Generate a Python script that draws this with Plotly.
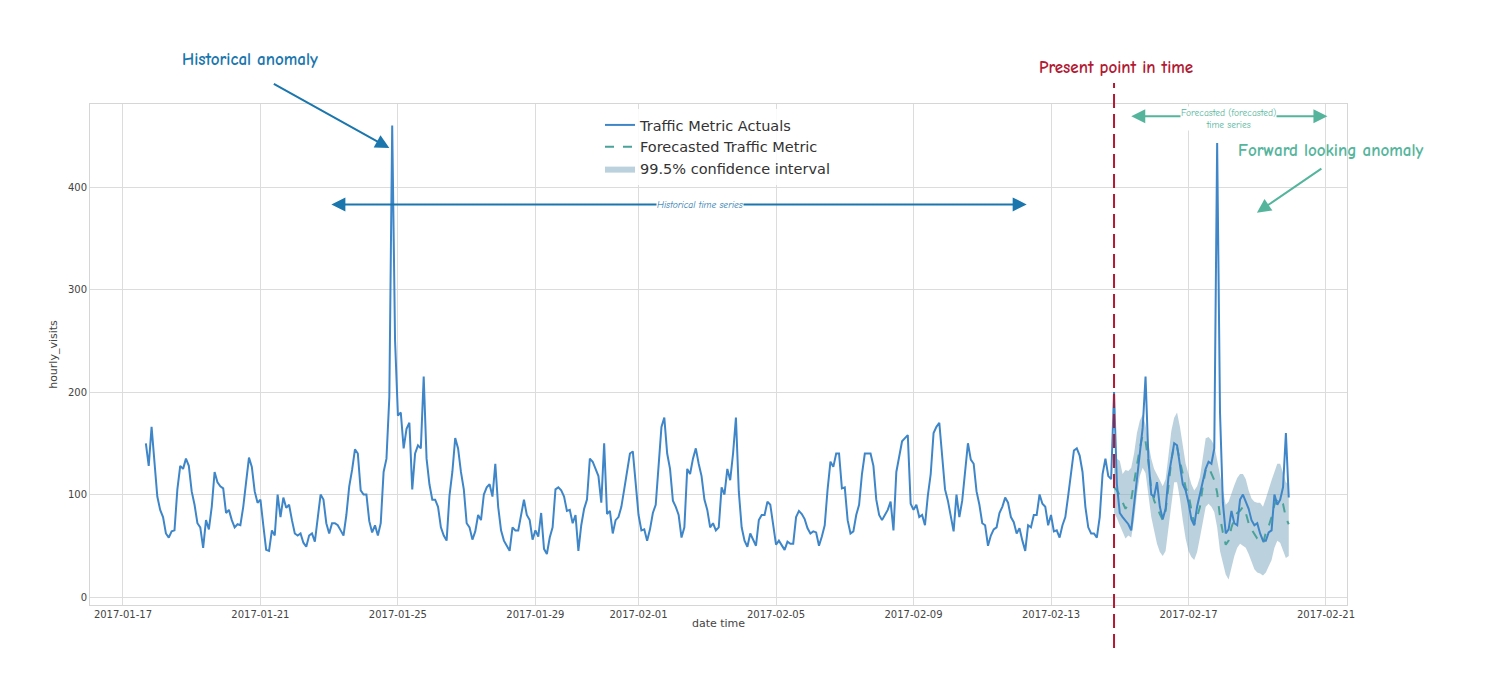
import pandas as pd
import plotly.graph_objects as go

# ---------------- data (2-hour resolution) ----------------
hist_start = "2017-01-17 16:00"
present_time = "2017-02-14 20:00"

# Actual hourly visits, Jan 17 16:00 -> Feb 14 20:00 (every 2 h)
actual_hist_visits = [
    150, 128, 166, 132, 98, 85, 78, 62, 58, 64,
    65, 105, 128, 125, 135, 128, 103, 90, 72, 68,
    48, 75, 66, 88, 122, 112, 108, 106, 82, 85,
    75, 68, 71, 70, 88, 112, 136, 127, 103, 92,
    95, 70, 46, 45, 65, 60, 100, 78, 97, 87,
    90, 75, 62, 60, 62, 53, 49, 60, 62, 54,
    78, 100, 95, 72, 62, 72, 72, 70,
    65, 60, 80, 108, 124, 144, 140, 104, 100, 100,
    74, 63, 70, 60, 72, 122, 135, 195, 460, 250,
    177, 180, 145, 164, 170, 105, 140, 148, 145, 215,
    135, 110, 95, 95, 88, 68, 60, 55, 99, 122,
    155, 145, 122, 105, 72, 68, 56, 64, 80, 75,
    100, 107, 110, 98, 130, 88, 65, 55, 50, 45,
    68, 65, 65, 80, 95, 80,
    75, 56, 65, 59, 82, 47, 42, 58, 68, 105,
    107, 104, 98, 84, 85, 72, 80, 45, 70, 86,
    95, 135, 132, 125, 118, 92, 150, 81, 84, 62,
    75, 78, 88, 105, 122, 140, 142, 110, 80, 65,
    66, 55, 66, 82, 90, 128, 166, 175, 140, 125,
    94, 88, 80, 58, 68, 125, 120, 135, 145, 130,
    118, 95, 85, 68, 72, 65, 68,
    107, 100, 125, 114, 140, 175, 103, 68, 55, 49,
    62, 56, 50, 75, 80, 80, 93, 90, 70, 51,
    55, 50, 46, 54, 52, 52, 78, 84, 81, 76,
    67, 62, 64, 63, 50, 59, 70, 105, 132, 127,
    140, 140, 106, 107, 75, 62, 64, 80, 90, 120,
    140, 140, 140, 128, 95, 80, 75, 80, 85, 93,
    65, 122, 138, 152, 155, 158,
    91, 85, 90, 78, 80, 70, 99, 120, 160, 166,
    170, 140, 105, 94, 78, 64, 100, 78, 94, 120,
    150, 134, 130, 103, 90, 72, 70, 50, 60, 66,
    68, 82, 88, 97, 92, 78, 73, 62, 67, 55,
    45, 70, 68, 80, 80, 100, 91, 88, 70, 80,
    64, 65, 58, 70, 78, 99, 122, 143, 145, 138,
    122, 88, 68, 62, 62, 58, 78, 120, 135, 118,
    115, 200,
]

# Actual visits after the present point, Feb 14 22:00 -> Feb 19 22:00 (every 2 h)
actual_recent_visits = [
    110, 82, 78, 74, 71, 65, 90, 118, 143, 165,
    215, 135, 100, 98, 112, 88, 76, 86, 117, 135,
    150, 148, 130, 110, 104, 92, 76, 70, 88, 100,
    112, 125, 132, 130, 145, 443, 180, 92, 62, 66,
    84, 72, 70, 95, 100, 92, 86, 75, 70, 72,
    62, 55, 55, 63, 65, 100, 90, 95, 107, 160,
    97,
]

# Forecast and 99.5% confidence interval, Feb 14 20:00 -> Feb 19 22:00 (every 2 h)
forecast_visits = [
    107, 104, 99, 92, 86, 91, 95, 112, 130, 145,
    158, 152, 132, 105, 94, 87, 81, 75, 84, 108,
    133, 149, 146, 133, 119, 107, 100, 85, 71, 78,
    88, 108, 124, 127, 120, 114, 102, 78, 63, 51,
    55, 68, 76, 82, 84, 88, 82, 72, 66, 62,
    57, 55, 52, 63, 69, 78, 90, 95, 96, 91,
    77, 71,
]
ci_upper = [
    140, 135, 133, 120, 124, 123, 126, 140, 160, 172,
    178, 168, 150, 135, 125, 120, 114, 108, 115, 138,
    162, 175, 180, 166, 146, 130, 120, 110, 104, 108,
    117, 134, 155, 156, 153, 148, 133, 120, 102, 90,
    93, 102, 109, 116, 120, 120, 115, 104, 96, 93,
    92, 92, 88, 96, 106, 114, 122, 130, 130, 120,
    112, 110,
]
ci_lower = [
    82, 77, 70, 63, 57, 60, 58, 75, 100, 118,
    126, 121, 100, 78, 65, 52, 44, 40, 45, 68,
    92, 112, 112, 96, 75, 57, 45, 39, 36, 44,
    58, 74, 88, 91, 88, 83, 68, 45, 33, 22,
    17, 28, 40, 48, 52, 50, 48, 42, 34, 27,
    24, 23, 21, 24, 30, 36, 48, 55, 53, 45,
    38, 40,
]

x_tick_dates = ["2017-01-17", "2017-01-21", "2017-01-25", "2017-01-29", "2017-02-01",
                "2017-02-05", "2017-02-09", "2017-02-13", "2017-02-17", "2017-02-21"]
y_tick_values = [0, 100, 200, 300, 400]

# ---------------- figure ----------------
actual_visits = actual_hist_visits + actual_recent_visits
actual_times = pd.date_range(hist_start, periods=len(actual_visits), freq="2h")
forecast_times = pd.date_range(present_time, periods=len(forecast_visits), freq="2h")

BLUE = "#3f86c8"
TEAL = "#4aa39a"
ANNO_BLUE = "#1a76ad"
ANNO_TEAL = "#55b59c"
RED = "#b11a33"
HAND = "Comic Sans MS, Comic Neue, Lato, Open Sans, sans-serif"

fig = go.Figure()

fig.add_trace(go.Scatter(x=forecast_times, y=ci_lower, mode="lines",
                         line=dict(width=0), showlegend=False, hoverinfo="skip"))
fig.add_trace(go.Scatter(x=forecast_times, y=ci_upper, mode="lines", fill="tonexty",
                         fillcolor="rgba(120,163,188,0.50)", line=dict(width=0),
                         name="99.5% confidence interval", legendrank=3))
fig.add_trace(go.Scatter(x=forecast_times, y=forecast_visits, mode="lines",
                         line=dict(color=TEAL, width=2, dash="dash"),
                         name="Forecasted Traffic Metric", legendrank=2))
fig.add_trace(go.Scatter(x=actual_times, y=actual_visits, mode="lines",
                         line=dict(color=BLUE, width=2),
                         name="Traffic Metric Actuals", legendrank=1))

# target plot-area box in page pixels; the page body adds an 8px offset
OFF = 8
W, H = 1500 - 2 * OFF, 681 - 2 * OFF
L, R, T, B = 90, 1347, 104, 605


def xp(px):
    return (px - L) / (R - L)


def yp(py):
    return (B - py) / (B - T)


# present point line (spans beyond the axes, like the reference)
fig.add_shape(type="line", xref="x", yref="paper", x0=present_time, x1=present_time,
              y0=yp(648), y1=yp(83), line=dict(color=RED, width=2, dash="14px,6px"))


def label(px, py, text, size, color, bold=True):
    return dict(xref="paper", yref="paper", x=xp(px), y=yp(py), xanchor="center",
                yanchor="middle", text=f"<b>{text}</b>" if bold else text,
                showarrow=False, font=dict(family=HAND, size=size, color=color))


annotations = [
    label(250, 60, "Historical anomaly", 17, ANNO_BLUE),
    dict(xref="x", yref="y", x="2017-01-24 18:00", y=438, ax=-117, ay=-65, text="",
         showarrow=True, arrowhead=2, arrowsize=1.4, arrowwidth=2, arrowcolor=ANNO_BLUE),
    dict(xref="x", yref="y", axref="x", ayref="y", x="2017-02-12 07:00", y=383,
         ax="2017-01-23 00:30", ay=383, text="", showarrow=True, arrowside="end+start",
         arrowhead=2, arrowsize=1.4, arrowwidth=2, arrowcolor=ANNO_BLUE),
    dict(xref="x", yref="y", x="2017-02-02 19:00", y=383, text="<i>Historical time series</i>",
         showarrow=False, bgcolor="white", borderpad=0, xanchor="center", yanchor="middle",
         font=dict(family=HAND, size=9.5, color=ANNO_BLUE)),
    label(1116, 67, "Present point in time", 17, RED),
    dict(xref="x", yref="y", axref="x", ayref="y", x="2017-02-21 01:00", y=469,
         ax="2017-02-15 07:00", ay=469, text="", showarrow=True, arrowside="end+start",
         arrowhead=2, arrowsize=1.4, arrowwidth=2, arrowcolor=ANNO_TEAL),
    dict(xref="x", yref="y", x="2017-02-18 04:00", y=467,
         text="Forecasted (forecasted)<br>time series", showarrow=False,
         bgcolor="white", borderpad=0, xanchor="center", yanchor="middle",
         font=dict(family=HAND, size=9.5, color=ANNO_TEAL)),
    label(1330, 150, "Forward looking anomaly", 17, ANNO_TEAL),
    dict(xref="x", yref="y", x="2017-02-18 23:45", y=375, ax=66, ay=-45, text="",
         showarrow=True, arrowhead=2, arrowsize=1.4, arrowwidth=2, arrowcolor=ANNO_TEAL),
]

fig.update_layout(
    width=W, height=H,
    margin=dict(l=L - OFF, r=(W + OFF) - R, t=T - OFF, b=(H + OFF) - B),
    paper_bgcolor="white", plot_bgcolor="white",
    font=dict(family="DejaVu Sans", color="#444"),
    annotations=annotations,
    legend=dict(x=xp(600), y=yp(109), xanchor="left", yanchor="top",
                traceorder="normal",
                bgcolor="rgba(255,255,255,0.85)",
                font=dict(family="DejaVu Sans", size=14.5, color="#333")),
    xaxis=dict(
        range=["2017-01-16 01:00", "2017-02-21 14:40"],
        tickvals=x_tick_dates, ticktext=x_tick_dates,
        tickfont=dict(size=10, color="#444"),
        showgrid=True, gridcolor="#dcdcdc", gridwidth=1,
        showline=True, linecolor="#d6d6d6", linewidth=1, mirror=True,
        zeroline=False, ticks="",
        title=dict(text="date time", font=dict(size=11, color="#444"), standoff=0),
    ),
    yaxis=dict(
        range=[-7.8, 481],
        tickvals=y_tick_values,
        tickfont=dict(size=10, color="#444"),
        showgrid=True, gridcolor="#dcdcdc", gridwidth=1,
        showline=True, linecolor="#d6d6d6", linewidth=1, mirror=True,
        zeroline=False, ticks="",
        title=dict(text="hourly_visits", font=dict(size=11, color="#444"), standoff=8),
    ),
)

fig.write_html("out.html")
